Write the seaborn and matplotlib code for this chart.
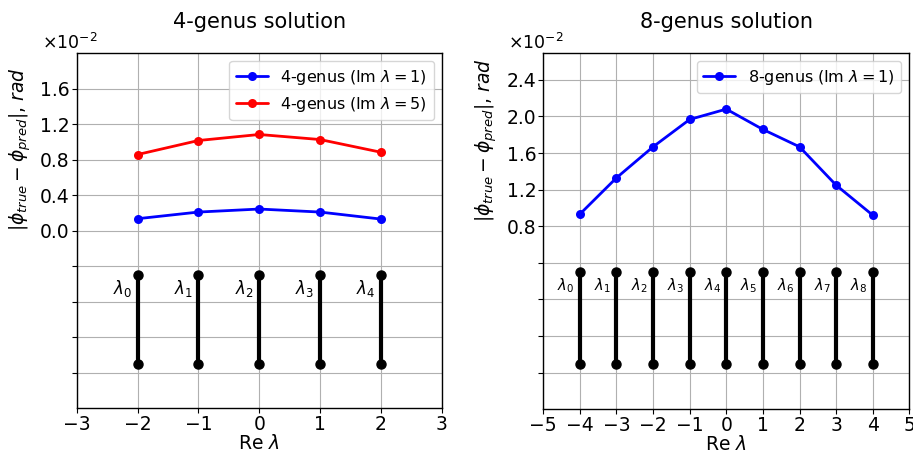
import numpy as np
import pandas as pd
import seaborn as sns
import matplotlib
matplotlib.use("Agg")
import matplotlib.pyplot as plt
from matplotlib.ticker import FixedLocator, FuncFormatter

# values in units of 1e-2 rad
re_lambda_4 = [-2, -1, 0, 1, 2]
err_4_im1 = [0.136, 0.211, 0.245, 0.211, 0.132]
err_4_im5 = [0.859, 1.017, 1.085, 1.028, 0.885]

re_lambda_8 = [-4, -3, -2, -1, 0, 1, 2, 3, 4]
err_8_im1 = [0.932, 1.329, 1.668, 1.967, 2.080, 1.858, 1.668, 1.249, 0.921]

# branch cut segments (lower / upper end), same units
cut_4 = (-1.5, -0.5)
cut_8 = (-0.7, 0.3)

sns.set_theme(style="ticks", rc={
    "axes.grid": True,
    "grid.color": "#b0b0b0",
    "grid.linewidth": 0.8,
    "axes.edgecolor": "black",
    "axes.linewidth": 1.0,
    "text.color": "black",
    "axes.labelcolor": "black",
    "xtick.color": "black",
    "ytick.color": "black",
    "xtick.labelsize": 13.5,
    "ytick.labelsize": 13.5,
})
plt.rcParams["font.family"] = ["DejaVu Sans"]

fig = plt.figure(figsize=(9.13, 4.5), dpi=100)
ax1 = fig.add_axes([0.084, 0.0927, 0.3998, 0.7889])
ax2 = fig.add_axes([0.595, 0.0904, 0.401, 0.7912])


def draw_cuts(ax, xs, cut, fs):
    for i, x in enumerate(xs):
        ax.plot([x, x], [cut[0] * 1e-2, cut[1] * 1e-2], color="black", lw=3,
                marker="o", ms=6.5, zorder=3)
        ax.annotate(rf"$\lambda_{i}$", (x, (cut[1] - 0.15) * 1e-2),
                    xytext=(-4, 0), textcoords="offset points",
                    ha="right", va="center", fontsize=fs)


def tick_label(v, labelled_from):
    val = round(v * 100, 1) + 0.0
    return f"{val:.1f}" if val > labelled_from - 1e-6 else ""


def setup(ax, ticks, labelled_from, ylim, xlim, title, ylab_fs, ylab_y, leg_fs):
    ax.set_xlim(*xlim)
    ax.set_xticks(range(xlim[0], xlim[1] + 1))
    ax.set_ylim(ylim[0] * 1e-2, ylim[1] * 1e-2)
    ax.yaxis.set_major_locator(FixedLocator([t * 1e-2 for t in ticks]))
    ax.yaxis.set_major_formatter(FuncFormatter(lambda v, p: tick_label(v, labelled_from)))
    ax.text(-0.095, 1.0, r"$\times10^{-2}$", transform=ax.transAxes,
            ha="left", va="bottom", fontsize=12.5)
    ax.set_xlabel(r"Re $\lambda$", fontsize=13.5, labelpad=0)
    ax.set_ylabel(r"$|\phi_{true} - \phi_{pred}|$, $rad$", fontsize=ylab_fs)
    ax.yaxis.set_label_coords(-0.12, ylab_y)
    ax.set_title(title, fontsize=15, pad=18)
    ax.tick_params(direction="out", length=3.5, width=0.8, pad=1.5)
    ax.legend(loc="upper right", fontsize=leg_fs, framealpha=0.8)


# left: 4-genus
df4 = pd.DataFrame({
    "x": re_lambda_4 * 2,
    "y": [v * 1e-2 for v in err_4_im1 + err_4_im5],
    "series": [r"4-genus (Im $\lambda = 1$)"] * 5 + [r"4-genus (Im $\lambda = 5$)"] * 5,
})
sns.lineplot(data=df4, x="x", y="y", hue="series", palette=["blue", "red"],
             marker="o", markersize=6.5, markeredgewidth=0, linewidth=2, ax=ax1)
draw_cuts(ax1, re_lambda_4, cut_4, 12)
setup(ax1, np.arange(-1.6, 1.7, 0.4), 0.0, (-2.0, 2.0), (-3, 3), "4-genus solution",
      13.5, 0.73, 11.5)

# right: 8-genus
df8 = pd.DataFrame({
    "x": re_lambda_8,
    "y": [v * 1e-2 for v in err_8_im1],
    "series": [r"8-genus (Im $\lambda = 1$)"] * 9,
})
sns.lineplot(data=df8, x="x", y="y", hue="series", palette=["blue"],
             marker="o", markersize=6.5, markeredgewidth=0, linewidth=2, ax=ax2)
draw_cuts(ax2, re_lambda_8, cut_8, 10.5)
setup(ax2, np.arange(-0.8, 2.5, 0.4), 0.8, (-1.2, 2.69), (-5, 5), "8-genus solution",
      13.5, 0.756, 11.5)

fig.savefig("out.png", dpi=100)
